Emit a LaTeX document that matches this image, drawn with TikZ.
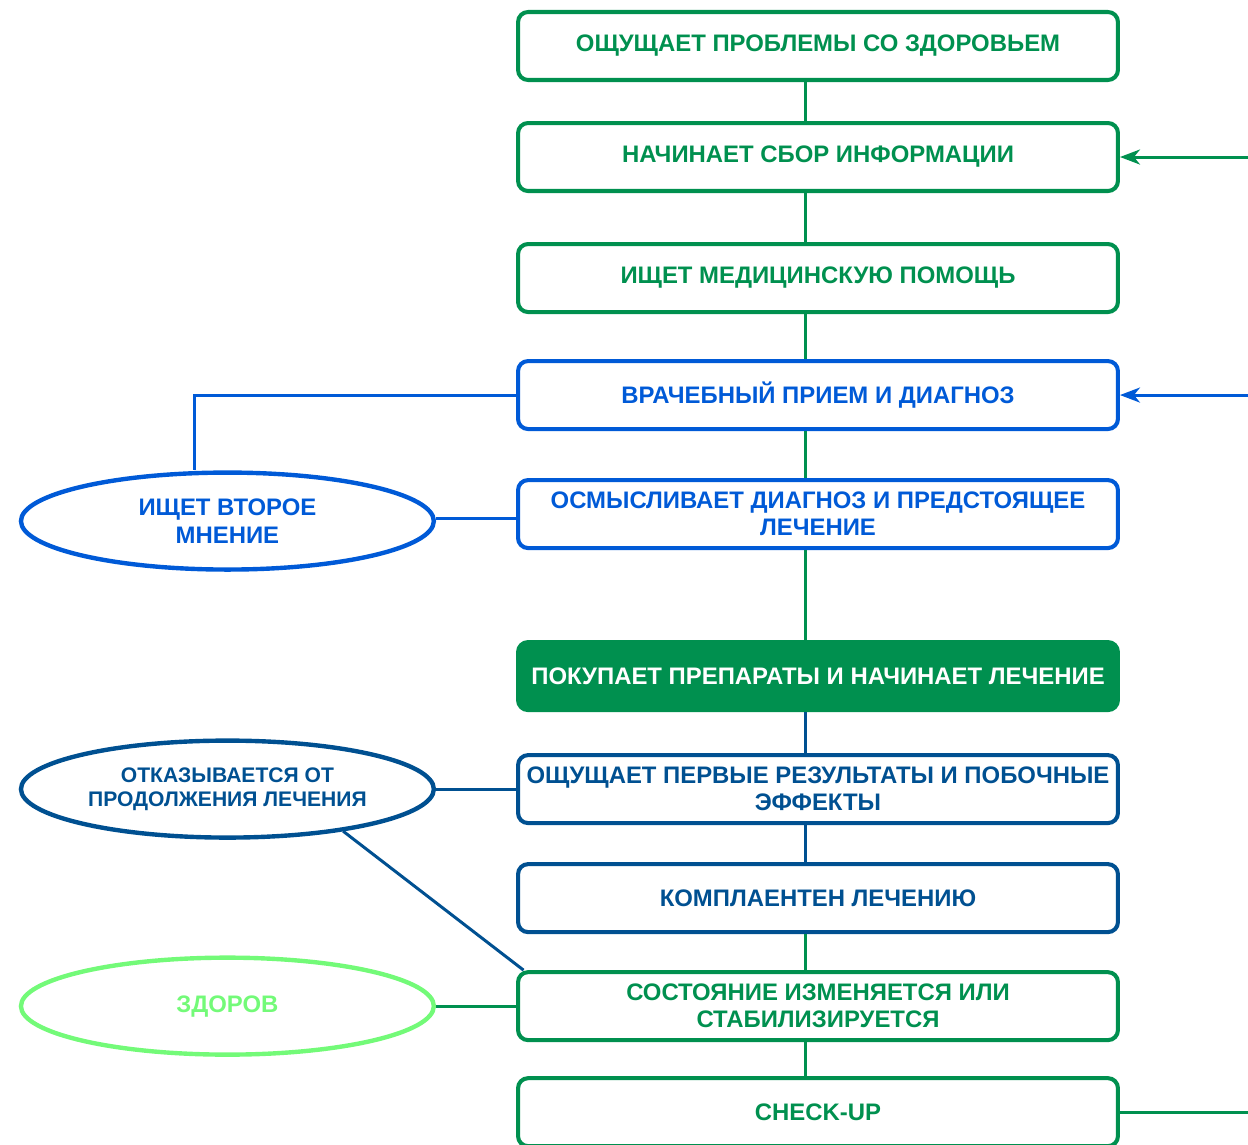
\documentclass[tikz,border=0pt]{standalone}
\usepackage{fontspec}
\setmainfont{Liberation Sans}
\usepackage{tikz}
\usetikzlibrary{shapes.geometric, arrows.meta, positioning, calc}

\definecolor{stepgreen}{RGB}{0,144,79}
\definecolor{stepblue}{RGB}{0,90,215}
\definecolor{stepnavy}{RGB}{0,80,145}
\definecolor{stepmint}{RGB}{115,250,120}

\begin{document}
\begin{tikzpicture}[
    x=0.02cm, y=-0.02cm,
    stage/.style={draw=#1, text=#1, line width=2.3pt, rounded corners=0.2cm, minimum width=12cm, minimum height=1.36cm, align=center, font=\bfseries\fontsize{13.6}{15.5}\selectfont},
    outcome/.style={ellipse, draw=#1, text=#1, line width=2.5pt, inner sep=0pt, minimum width=8.26cm, minimum height=1.94cm, align=center, font=\bfseries\fontsize{13.6}{15.5}\selectfont},
    link/.style={line width=1.7pt},
    feed/.style={link, -{Stealth[length=0.4cm, width=0.3cm, inset=0.12cm]}}
]
    \useasboundingbox (0,0) rectangle (1248,1145);

    \node[stage=stepgreen] (feels) at (818,46) {ОЩУЩАЕТ ПРОБЛЕМЫ СО ЗДОРОВЬЕМ};
    \node[stage=stepgreen, below=0.78cm of feels] (gathers) {НАЧИНАЕТ СБОР ИНФОРМАЦИИ};
    \node[stage=stepgreen, below=0.98cm of gathers] (seeks) {ИЩЕТ МЕДИЦИНСКУЮ ПОМОЩЬ};
    \node[stage=stepblue, below=0.90cm of seeks] (visit) {ВРАЧЕБНЫЙ ПРИЕМ И ДИАГНОЗ};
    \node[stage=stepblue, below=0.94cm of visit] (ponders) {ОСМЫСЛИВАЕТ ДИАГНОЗ И ПРЕДСТОЯЩЕЕ\\ЛЕЧЕНИЕ};
    \node[stage=stepgreen, fill=stepgreen, text=white, below=1.80cm of ponders] (buys) {ПОКУПАЕТ ПРЕПАРАТЫ И НАЧИНАЕТ ЛЕЧЕНИЕ};
    \node[stage=stepnavy, below=0.82cm of buys] (effects) {ОЩУЩАЕТ ПЕРВЫЕ РЕЗУЛЬТАТЫ И ПОБОЧНЫЕ\\ЭФФЕКТЫ};
    \node[stage=stepnavy, below=0.74cm of effects] (complies) {КОМПЛАЕНТЕН ЛЕЧЕНИЮ};
    \node[stage=stepgreen, below=0.72cm of complies] (state) {СОСТОЯНИЕ ИЗМЕНЯЕТСЯ ИЛИ\\СТАБИЛИЗИРУЕТСЯ};
    \node[stage=stepgreen, below=0.68cm of state] (checkup) {CHECK-UP};

    \node[outcome=stepblue, left=1.6cm of ponders, yshift=-0.14cm] (second) {ИЩЕТ ВТОРОЕ\\МНЕНИЕ};
    \node[outcome=stepnavy, left=1.6cm of effects, font=\bfseries\fontsize{12}{13.6}\selectfont] (quits) {ОТКАЗЫВАЕТСЯ ОТ\\ПРОДОЛЖЕНИЯ ЛЕЧЕНИЯ};
    \node[outcome=stepmint, left=1.6cm of state] (healthy) {ЗДОРОВ};

    \coordinate (spine) at (805,0);
    \coordinate (rim) at (1260,0);

    \foreach \a/\b/\c in {feels/gathers/stepgreen, gathers/seeks/stepgreen, seeks/visit/stepgreen,
        visit/ponders/stepgreen, ponders/buys/stepgreen, buys/effects/stepnavy,
        effects/complies/stepnavy, complies/state/stepgreen, state/checkup/stepgreen}
        \draw[link, \c] (\a.south -| spine) -- (\b.north -| spine);

    \draw[link, stepblue] (visit.west) -| ([xshift=-0.66cm]second.north);
    \draw[link, stepblue] ([yshift=0.06cm]second.east) -- ([yshift=0.06cm]second.east -| ponders.west);
    \draw[link, stepnavy] (quits) -- (effects);
    \draw[link, stepnavy] (quits.340) -- ([xshift=0.15cm]state.north west);
    \draw[link, stepgreen] (healthy) -- (state);

    \draw[feed, stepgreen] (gathers.east -| rim) -- (gathers.east);
    \draw[feed, stepblue] (visit.east -| rim) -- (visit.east);
    \draw[link, stepgreen] (checkup.east) -- (checkup.east -| rim);
\end{tikzpicture}
\end{document}
